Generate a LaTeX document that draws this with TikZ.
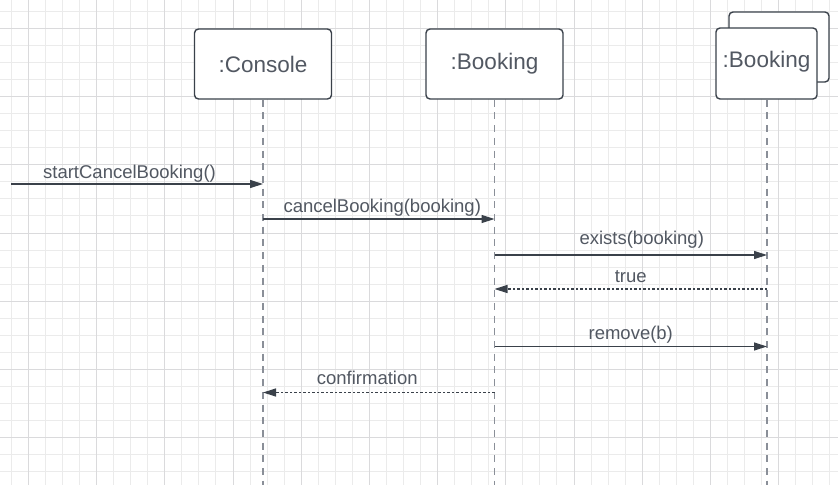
\documentclass[tikz,border=0pt]{standalone}
\usepackage{fontspec}
\setmainfont{Liberation Sans}
\usetikzlibrary{arrows.meta,calc}
\definecolor{gridminor}{RGB}{235,235,235}
\definecolor{gridmajor}{RGB}{218,218,220}
\definecolor{linedark}{RGB}{58,65,74}
\definecolor{textgray}{RGB}{82,88,98}
\definecolor{lifegray}{RGB}{138,143,152}
\tikzset{
	lifebox/.style={draw=linedark, line width=1.4pt, rounded corners=4pt, fill=white, inner sep=0pt, minimum width=137pt, minimum height=70pt, text=textgray, font=\fontsize{22.5}{27}\selectfont},
	lifeline/.style={draw=lifegray, line width=1.3pt, dash pattern=on 7pt off 5.7pt},
	call/.style={draw=linedark, line width=1.2pt, -{Triangle[length=13pt,width=8pt]}},
	reply/.style={call, dash pattern=on 2.5pt off 2pt},
	msg/.style={anchor=base, yshift=7pt, text=textgray, font=\fontsize{18.5}{22}\selectfont}
}

\begin{document}
\begin{tikzpicture}[x=1pt, y=-1pt]
		%%%%% GRID %%%%%
		\useasboundingbox (0, 0) rectangle (838, 485);
		\fill[white] (0, 0) rectangle (838, 485);
		\foreach \k in {0,...,48} \draw[gridminor, line width=1pt] ({11.35+17.05*\k}, 0) -- ({11.35+17.05*\k}, 485);
		\foreach \k in {0,...,27} \draw[gridminor, line width=1pt] (0, {11.35+17.05*\k}) -- (838, {11.35+17.05*\k});
		\foreach \k in {0,...,11} \draw[gridmajor, line width=1pt] ({28.4+68.2*\k}, 0) -- ({28.4+68.2*\k}, 485);
		\foreach \k in {0,...,6} \draw[gridmajor, line width=1pt] (0, {28.4+68.2*\k}) -- (838, {28.4+68.2*\k});
		
		%%%%% OBJECTS %%%%%
		\node[lifebox] (con) at (263, 64) {:Console};
		\node[lifebox] (bk) at (494.5, 64) {:Booking};
		\node[lifebox, minimum width=100pt] (bkback) at (779, 47) {};
		\node[lifebox, minimum width=101pt, minimum height=71pt] (bks) at (766.5, 63.5) {};
		\node[text=textgray, font=\fontsize{22.5}{27}\selectfont] (bkslabel) at (766.5, 62) {:Booking};
		
		\coordinate (conEnd) at (263, 485);
		\coordinate (bkEnd) at (494.5, 485);
		\coordinate (bksEnd) at (767, 485);
		\draw[lifeline] (con.south) -- (conEnd);
		\draw[lifeline] (bk.south) -- (bkEnd);
		\draw[lifeline] (bks.south -| bksEnd) -- (bksEnd);
		
		%%%%% MESSAGES %%%%%
		\coordinate (start) at (11, 184);
		\coordinate (t2) at (0, 219);
		\coordinate (t3) at (0, 255);
		\coordinate (t4) at (0, 289);
		\coordinate (t5) at (0, 346.5);
		\coordinate (t6) at (0, 392.5);
		
		\draw[call] (start) -- node[msg, xshift=-7.5pt, yshift=-1pt] {startCancelBooking()} (con |- start);
		\draw[call] (con |- t2) -- node[msg, xshift=3.5pt] {cancelBooking(booking)} (bk |- t2);
		\draw[call] (bk |- t3) -- node[msg, xshift=11pt, yshift=4pt] {exists(booking)} (bksEnd |- t3);
		\draw[reply] (bksEnd |- t4) -- node[msg] {true} (bk |- t4);
		\draw[call] (bk |- t5) -- node[msg] {remove(b)} (bksEnd |- t5);
		\draw[reply] (bk |- t6) -- node[msg, xshift=-11.5pt, yshift=1pt] {confirmation} (con |- t6);
	\end{tikzpicture}
\end{document}
